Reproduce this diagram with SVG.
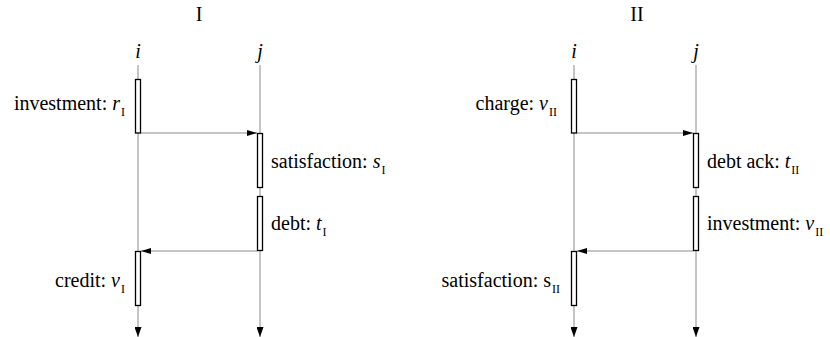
<svg xmlns="http://www.w3.org/2000/svg" width="830" height="337" viewBox="0 0 830 337" font-family="'Liberation Serif', 'Times New Roman', Times, serif" font-size="20">
<defs>
<style>
text{font-family:'Liberation Serif','Times New Roman',Times,serif;font-size:20px;fill:#000}
.it{font-style:italic}
.sub{font-size:12px;font-style:normal}
.life{stroke:#8a8a8a;stroke-width:1;fill:none}
.msg{stroke:#8a8a8a;stroke-width:1;fill:none;marker-end:url(#ah)}
.act{fill:#fff;stroke:#000;stroke-width:1.3}
</style>
<marker id="ah" viewBox="0 0 10 6" refX="10" refY="3" markerWidth="10" markerHeight="6" markerUnits="userSpaceOnUse" orient="auto">
<path d="M0,0 L10,3 L0,6 Z" fill="#000"/>
</marker>
<marker id="dn" viewBox="0 0 10 7" refX="10" refY="3.5" markerWidth="10" markerHeight="7" markerUnits="userSpaceOnUse" orient="auto">
<path d="M0,0 L10,3.5 L0,7 Z" fill="#000"/>
</marker>
</defs>

<g id="panel-I">
<text x="199" y="21" text-anchor="middle">I</text>
<g id="lifeline-i-I">
<text class="it" x="138" y="58" text-anchor="middle">i</text>
<line class="life" x1="138" y1="65" x2="138" y2="337" marker-end="url(#dn)"/>
</g>
<g id="lifeline-j-I">
<text class="it" x="260" y="58" text-anchor="middle">j</text>
<line class="life" x1="260" y1="65" x2="260" y2="337" marker-end="url(#dn)"/>
</g>
<g id="connectors-I">
<line class="msg" x1="140.5" y1="133" x2="257" y2="133"/>
<line class="msg" x1="257.5" y1="251" x2="141" y2="251"/>
</g>
<g id="act-investment-I">
<rect class="act" x="135.5" y="79.5" width="5" height="53.5"/>
<text x="125" y="110" text-anchor="end">investment: <tspan class="it">r</tspan><tspan class="sub" dx="1" dy="6">I</tspan></text>
</g>
<g id="act-satisfaction-I">
<rect class="act" x="257.5" y="133.5" width="5" height="54"/>
<text x="271" y="168">satisfaction: <tspan class="it">s</tspan><tspan class="sub" dx="1" dy="6">I</tspan></text>
</g>
<g id="act-debt-I">
<rect class="act" x="257.5" y="196.5" width="5" height="54"/>
<text x="271" y="230">debt: <tspan class="it">t</tspan><tspan class="sub" dx="1" dy="6">I</tspan></text>
</g>
<g id="act-credit-I">
<rect class="act" x="135.5" y="251.5" width="5" height="54"/>
<text x="125" y="287" text-anchor="end">credit: <tspan class="it">v</tspan><tspan class="sub" dx="1" dy="6">I</tspan></text>
</g>
</g>

<g id="panel-II">
<text x="637" y="21" text-anchor="middle">II</text>
<g id="lifeline-i-II">
<text class="it" x="574" y="58" text-anchor="middle">i</text>
<line class="life" x1="574" y1="65" x2="574" y2="337" marker-end="url(#dn)"/>
</g>
<g id="lifeline-j-II">
<text class="it" x="696" y="58" text-anchor="middle">j</text>
<line class="life" x1="696" y1="65" x2="696" y2="337" marker-end="url(#dn)"/>
</g>
<g id="connectors-II">
<line class="msg" x1="576.5" y1="133" x2="693" y2="133"/>
<line class="msg" x1="693.5" y1="251" x2="577" y2="251"/>
</g>
<g id="act-charge-II">
<rect class="act" x="571.5" y="79.5" width="5" height="53.5"/>
<text x="557" y="110" text-anchor="end">charge: <tspan class="it">v</tspan><tspan class="sub" dx="1" dy="6">II</tspan></text>
</g>
<g id="act-debtack-II">
<rect class="act" x="693.5" y="133.5" width="5" height="54"/>
<text x="707" y="168">debt ack: <tspan class="it">t</tspan><tspan class="sub" dx="1" dy="6">II</tspan></text>
</g>
<g id="act-investment-II">
<rect class="act" x="693.5" y="196.5" width="5" height="54"/>
<text x="707" y="230">investment: <tspan class="it">v</tspan><tspan class="sub" dx="1" dy="6">II</tspan></text>
</g>
<g id="act-satisfaction-II">
<rect class="act" x="571.5" y="251.5" width="5" height="54"/>
<text x="560" y="287" text-anchor="end">satisfaction: s<tspan class="sub" dx="1" dy="6">II</tspan></text>
</g>
</g>
</svg>
